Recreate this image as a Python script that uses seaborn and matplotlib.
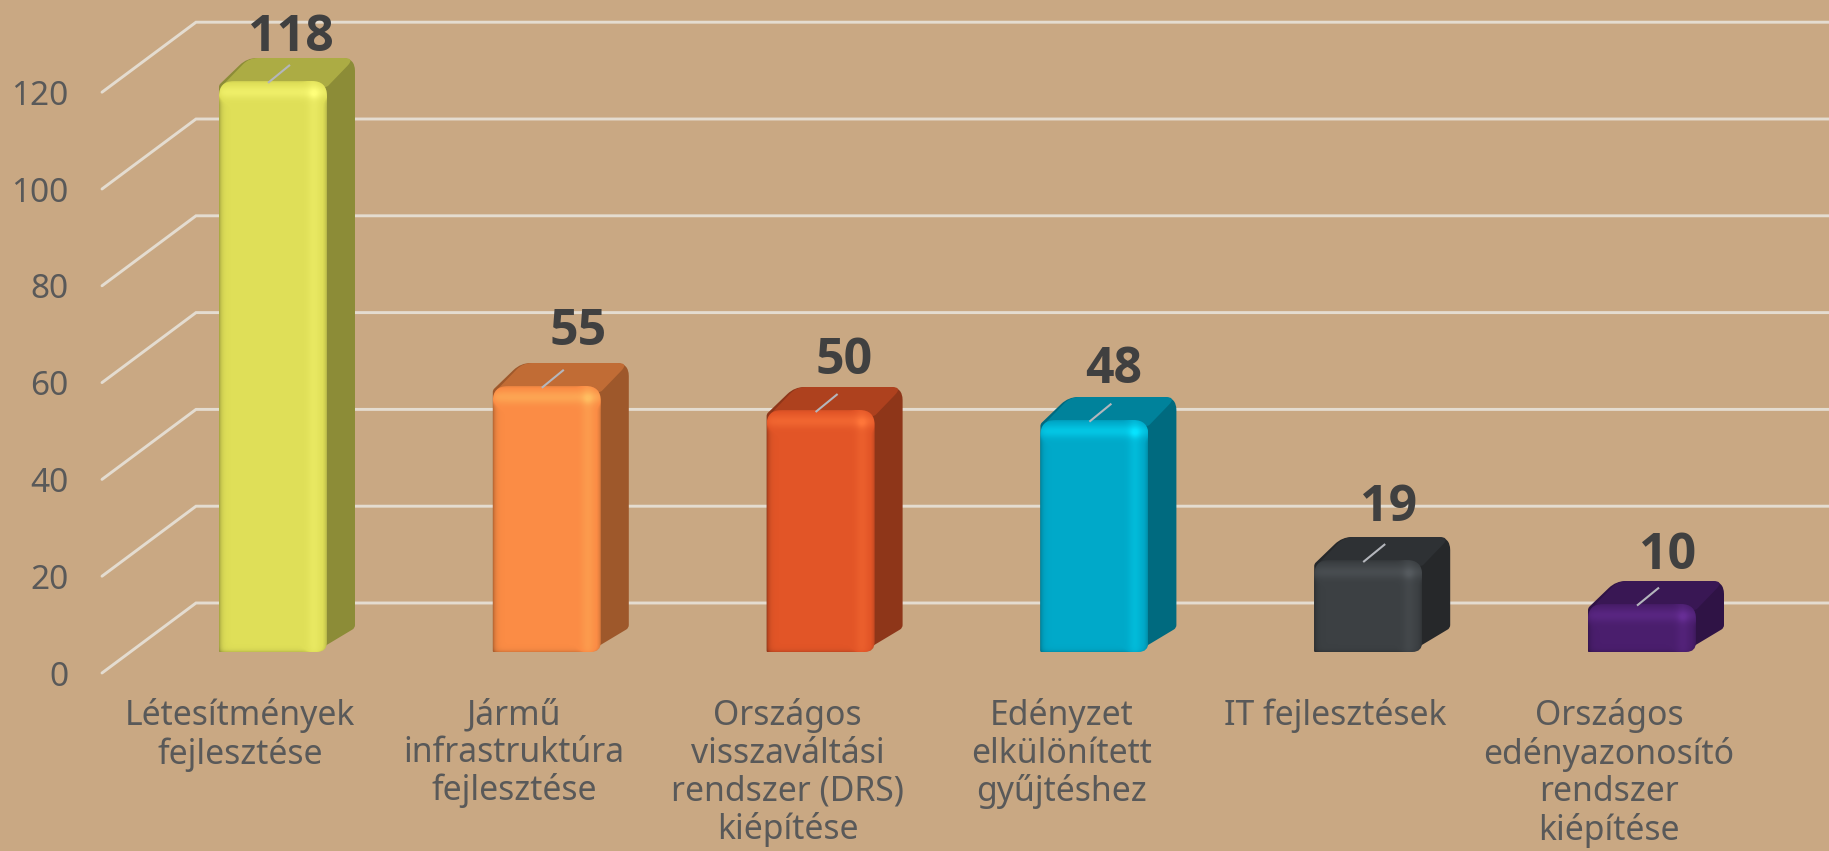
import numpy as np
import pandas as pd
import seaborn as sns
import matplotlib.pyplot as plt
from matplotlib.path import Path
from matplotlib.patches import PathPatch
from matplotlib.colors import to_rgb

# data
categories = ['Létesítmények\nfejlesztése', 'Jármű\ninfrastruktúra\nfejlesztése',
              'Országos\nvisszaváltási\nrendszer (DRS)\nkiépítése', 'Edényzet\nelkülönített\ngyűjtéshez',
              'IT fejlesztések', 'Országos\nedényazonosító\nrendszer\nkiépítése']
values = [118, 55, 50, 48, 19, 10]
y_ticks = [0, 20, 40, 60, 80, 100, 120]
bar_colors = ['#DFDF58', '#FB8C45', '#E25527', '#00A9C9', '#3C4043', '#4A1E6D']

# label nudges in pixels (x from bar centre, y above bar front)
label_dx = [18, 31, 23, 19, 20, 26]
label_dy = [30, 41, 36, 37, 39, 35]

BG = '#C9A883'
GRID = '#E4DCD0'
W, H = 1829, 851
SX = 273.8     # px per category
SY = 4.84      # px per value
BASE = 652     # bar baseline, px from top
FRONT = 673    # front floor, px from top
BACK = 603     # back wall floor, px from top
LEFT = 102
CX0 = 273      # first bar centre px
DX, DY = 28, 24  # bar depth in px

sns.set_style('white')
plt.rcParams['font.family'] = ['Noto Sans', 'DejaVu Sans']

fig = plt.figure(figsize=(W / 100, H / 100), dpi=100, facecolor=BG)
ax = fig.add_axes([LEFT / W, 1 - FRONT / H, (W - LEFT) / W, FRONT / H])
ax.set_facecolor('none')

df = pd.DataFrame({'category': categories, 'value': values})
sns.barplot(data=df, x='category', y='value', hue='category', palette=bar_colors, saturation=1,
            width=108 / SX, legend=False, ax=ax, zorder=3, edgecolor='none', linewidth=0)

xlim = ((LEFT - CX0) / SX, (W - CX0) / SX)
y_front = (BASE - FRONT) / SY
y_back = (BASE - BACK) / SY
ylim = (y_front, BASE / SY)
ax.set_autoscale_on(False)
ax.set_xlim(xlim)
ax.set_ylim(ylim)


def rounded(points, radii, ox, oy):
    # closed polygon in px (relative to data point ox, oy) with rounded corners
    pts = np.array(points, dtype=float)
    n = len(pts)
    verts, codes = [], []
    for i in range(n):
        p, a, b = pts[i], pts[i - 1], pts[(i + 1) % n]
        r = radii[i]
        u = (a - p) / np.linalg.norm(a - p)
        v = (b - p) / np.linalg.norm(b - p)
        verts.append(p + u * r)
        codes.append(Path.MOVETO if i == 0 else Path.LINETO)
        verts += [p, p + v * r]
        codes += [Path.CURVE3, Path.CURVE3]
    verts.append(verts[0])
    codes.append(Path.CLOSEPOLY)
    verts = np.array(verts)
    verts = np.column_stack([ox + verts[:, 0] / SX, oy + verts[:, 1] / SY])
    return Path(verts, codes)


def shade(w, h, c):
    # light/dark overlay for the bevelled front face, relative to the bar colour
    xx, yy = np.meshgrid(np.arange(w) + .5, np.arange(h) + .5)
    s = np.zeros((h, w))
    right = w - xx
    s += 0.30 * np.exp(-((right - 13) / 6.5) ** 2)
    s -= 0.30 * np.exp(-right / 2.5)
    s -= 0.45 * np.exp(-xx / 2.5)
    s += 0.50 * np.exp(-((yy - 12) / 6.5) ** 2)
    s -= 0.25 * np.exp(-yy / 2.5)
    s -= 0.25 * np.exp(-(h - yy) / 1.8)
    s += 0.30 * np.exp(-(((right - 13) / 5) ** 2 + ((yy - 14) / 5) ** 2))
    light = np.clip(c * 1.3 + 0.03, 0, 1)
    dark = c * 0.35
    rgba = np.zeros((h, w, 4))
    rgba[..., :3] = np.where((s > 0)[..., None], light, dark)
    rgba[..., 3] = np.clip(np.abs(s), 0, 1)
    return rgba


# back wall and floor lines
for v in y_ticks:
    ax.plot([xlim[0], (196 - CX0) / SX, xlim[1]], [v + y_front, v + y_back, v + y_back],
            color=GRID, lw=2.1, zorder=1, clip_on=False, solid_joinstyle='miter')

for i, (bar, val, col) in enumerate(zip(ax.patches, values, bar_colors)):
    x0 = bar.get_x()
    w_px = int(round(bar.get_width() * SX))
    h_px = int(round(bar.get_height() * SY))
    c = np.array(to_rgb(col))

    side = rounded([(w_px - 12, 0), (w_px + DX, DY), (w_px + DX, h_px + DY - 1),
                    (DX, h_px + DY - 1), (0, h_px - 4), (0, 0)],
                   [10, 3, 13, 10, 2, 1], x0, 0)
    ax.add_patch(PathPatch(side, fc=c * 0.63, ec='none', zorder=2))
    top = rounded([(2, h_px - 6), (DX + 2, h_px + DY - 1), (w_px + DX, h_px + DY - 1), (w_px, h_px - 6)],
                  [4, 9, 11, 2], x0, 0)
    ax.add_patch(PathPatch(top, fc=c * 0.77, ec='none', zorder=2.1))

    front = rounded([(0, 0), (w_px, 0), (w_px, h_px), (0, h_px)], [2, 10, 15, 15], x0, 0)
    bar.set_clip_path(front, ax.transData)
    im = ax.imshow(shade(w_px, h_px, c), extent=(x0, x0 + w_px / SX, 0, val), origin='upper',
                   aspect='auto', interpolation='bilinear', zorder=3.5)
    im.set_clip_path(front, ax.transData)

    # leader line and value
    cx = x0 + bar.get_width() / 2
    ax.plot([cx - 5 / SX, cx + 17 / SX], [val - 2 / SY, val + 16 / SY], color='#B4B6BC', lw=1.5, zorder=4,
            solid_capstyle='butt')
    ax.text(cx + label_dx[i] / SX, val + label_dy[i] / SY, str(val), ha='center', va='baseline',
            fontsize=36, fontweight='bold', family=['Open Sans', 'DejaVu Sans'], color='#404040', zorder=5,
            clip_on=False)

sns.despine(ax=ax, left=True, bottom=True)
ax.set_xlabel('')
ax.set_ylabel('')
ax.set_yticks([v + y_front for v in y_ticks], [str(v) for v in y_ticks])
ax.set_xticks([i - 33 / SX for i in range(len(categories))], categories, linespacing=1.14)
ax.tick_params(axis='y', length=0, pad=24, labelsize=24, labelcolor='#595959')
ax.tick_params(axis='x', length=0, pad=18, labelsize=24.3, labelcolor='#595959')
ax.set_xlim(xlim)
ax.set_ylim(ylim)

fig.savefig('out.png', dpi=100, facecolor=BG)
